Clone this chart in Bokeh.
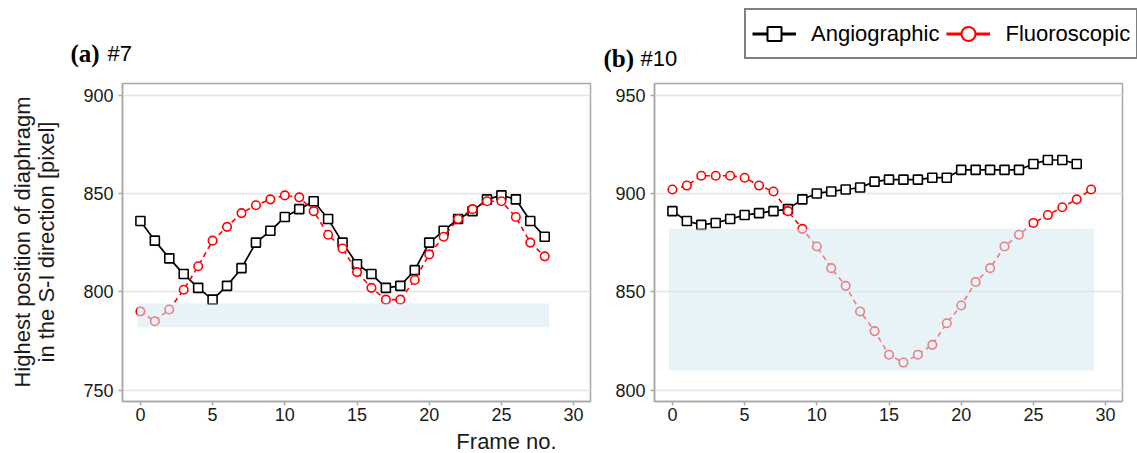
import math
from bokeh.plotting import figure
from bokeh.layouts import row, column
from bokeh.models import Label, Legend, LegendItem, FixedTicker, ColumnDataSource, Range1d
from bokeh.embed import file_html
from bokeh.resources import INLINE

# ---------------- data ----------------
frames_a = list(range(29))
angio_a = [836, 826, 817, 809, 802, 796, 803, 812, 825, 831, 838, 842, 846, 837, 825,
           814, 809, 802, 803, 811, 825, 831, 837, 841, 847, 849, 847, 836, 828]
fluoro_a = [790, 785, 791, 801, 813, 826, 833, 840, 844, 847, 849, 848, 841, 829, 822,
            810, 802, 796, 796, 806, 819, 828, 837, 842, 846, 846, 838, 825, 818]

frames_b_angio = list(range(29))
angio_b = [891, 886, 884, 885, 887, 889, 890, 891, 892, 897, 900, 901, 902, 903, 906,
           907, 907, 907, 908, 908, 912, 912, 912, 912, 912, 915, 917, 917, 915]
frames_b_fluoro = list(range(30))
fluoro_b = [902, 904, 909, 909, 909, 908, 904, 901, 891, 882, 873, 862, 853, 840, 830,
            818, 814, 818, 823, 834, 843, 855, 862, 873, 879, 885, 889, 893, 897, 902]

band_a_x = [-0.2, 28.3]
band_a_y = [782, 794]
band_b_x = [-0.25, 29.2]
band_b_y = [810, 882]

xticks = [0, 5, 10, 15, 20, 25, 30]
yticks_a = [750, 800, 850, 900]
yticks_b = [800, 850, 900, 950]

series_names = ["Angiographic", "Fluoroscopic"]
panel_tags = [("(a)", "#7"), ("(b)", "#10")]
y_title = ["Highest position of diaphragm", "in the S-I direction [pixel]"]
x_title = "Frame no."

SANS = "Liberation Sans"
SERIF = "Liberation Serif"
FRAME = "#a8a8a8"

W = 1137
HEAD = 80       # header strip height
ROW_H = 349     # plot row height (canvas y 80..429)
FOOT = 453 - HEAD - ROW_H


def strip(width, height):
    s = figure(width=width, height=height, x_range=Range1d(0, width),
               y_range=Range1d(0, height), output_backend="svg", toolbar_location=None,
               min_border=0, x_axis_location=None, y_axis_location=None)
    s.outline_line_color = None
    s.grid.grid_line_color = None
    s.background_fill_color = "white"
    s.border_fill_color = "white"
    return s


def make_fig(width, left, right, yr, yticks):
    p = figure(width=width, height=ROW_H, x_range=Range1d(-1.24, 31.17),
               y_range=Range1d(*yr), output_backend="svg", toolbar_location=None,
               min_border_left=left, min_border_right=right,
               min_border_top=3, min_border_bottom=28)
    p.background_fill_color = "white"
    p.border_fill_color = "white"
    p.outline_line_color = FRAME
    p.outline_line_width = 1.5
    p.xgrid.grid_line_color = None
    p.ygrid.grid_line_color = "#e4e4e4"
    p.ygrid.grid_line_width = 1.5
    p.xaxis.ticker = FixedTicker(ticks=xticks)
    p.yaxis.ticker = FixedTicker(ticks=yticks)
    for ax in (p.xaxis, p.yaxis):
        ax.axis_line_color = FRAME
        ax.axis_line_width = 1.5
        ax.major_tick_line_color = FRAME
        ax.major_tick_line_width = 1.5
        ax.major_tick_out = 4
        ax.major_tick_in = 0
        ax.minor_tick_line_color = None
        ax.major_label_text_font = SANS
        ax.major_label_text_font_size = "18px"
        ax.major_label_text_color = "#1a1a1a"
    p.yaxis.major_label_standoff = 5
    p.xaxis.major_label_standoff = 2
    return p


def draw_series(p, xa, ya, xf, yf, bx, by):
    p.line(xa, ya, line_color="black", line_width=1.7)
    p.scatter(xa, ya, marker="square", size=9, line_color="black", line_width=1.6,
              fill_color="white")
    p.line(xf, yf, line_color="red", line_width=1.6, line_dash="5 4")
    p.scatter(xf, yf, marker="circle", size=8.5, line_color="red", line_width=1.6,
              fill_color="white")
    p.quad(left=[bx[0]], right=[bx[1]], bottom=[by[0]], top=[by[1]],
           fill_color="#d6eaf2", fill_alpha=0.55, line_color=None)


# ---------------- header: panel tags + legend ----------------
head = strip(W, HEAD)
for (tag, num), (tx, nx, base) in zip(panel_tags, [(70, 107, 53), (603, 640, 58)]):
    head.add_layout(Label(x=tx, y=HEAD - base, text=tag, text_font=SERIF,
                          text_font_style="bold", text_font_size="25px",
                          text_color="black", text_baseline="alphabetic"))
    head.add_layout(Label(x=nx, y=HEAD - base, text=num, text_font=SANS,
                          text_font_size="22px", text_color="black",
                          text_baseline="alphabetic"))

# legend key renderers: points placed off-canvas so only the key is visible
off = ColumnDataSource(data=dict(x=[-500, -400], y=[-500, -500]))
la = head.line("x", "y", source=off, line_color="black", line_width=3)
sa = head.scatter("x", "y", source=off, marker="square", line_color="black",
                  line_width=2, fill_color="white")
lf = head.line("x", "y", source=off, line_color="red", line_width=3)
sf = head.scatter("x", "y", source=off, marker="circle", line_color="red",
                  line_width=2, fill_color="white")
legend = Legend(items=[LegendItem(label=series_names[0], renderers=[la, sa]),
                       LegendItem(label=series_names[1], renderers=[lf, sf])],
                orientation="horizontal", location=(744, HEAD - 59),
                glyph_width=44, glyph_height=35, padding=6, spacing=7,
                label_standoff=15, margin=0,
                label_text_font=SANS, label_text_font_size="22px",
                label_text_color="black", label_height=35,
                border_line_color="black", border_line_width=2,
                background_fill_color="white", background_fill_alpha=1)
head.add_layout(legend)

# ---------------- y-axis title strip ----------------
YT_W = 60
ytitle = strip(YT_W, ROW_H)
for txt, cx in zip(y_title, (22, 46)):
    ytitle.add_layout(Label(x=cx, y=HEAD + ROW_H - 254, text=txt, angle=math.pi / 2,
                            text_font=SANS, text_font_size="22px", text_color="#1a1a1a",
                            text_align="center", text_baseline="middle"))

# ---------------- panels ----------------
pa = make_fig(600 - YT_W, 122 - YT_W, 10, (744.2, 905.9), yticks_a)
draw_series(pa, frames_a, angio_a, frames_a, fluoro_a, band_a_x, band_a_y)

pb = make_fig(W - 600, 54, 15, (794.2, 955.9), yticks_b)
draw_series(pb, frames_b_angio, angio_b, frames_b_fluoro, fluoro_b, band_b_x, band_b_y)

# ---------------- footer: x-axis title ----------------
foot = strip(W, FOOT)
foot.add_layout(Label(x=506, y=453 - 441, text=x_title, text_font=SANS,
                      text_font_size="22px", text_color="#1a1a1a",
                      text_align="center", text_baseline="middle"))

layout = column(head, row(ytitle, pa, pb), foot)
open("out.html", "w").write(file_html(layout, INLINE))
